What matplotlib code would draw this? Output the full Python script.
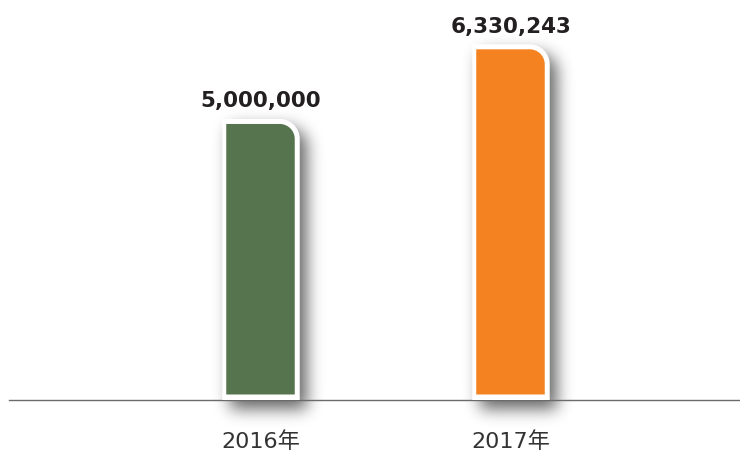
import numpy as np
import matplotlib
matplotlib.use('Agg')
import matplotlib.pyplot as plt
from matplotlib.path import Path
from matplotlib.patches import PathPatch
from matplotlib.transforms import IdentityTransform

plt.rcParams['font.family'] = ['DejaVu Sans', 'Noto Sans CJK SC']

categories = ['2016年', '2017年']
values = [5000000, 6330243]
value_labels = ['5,000,000', '6,330,243']
colors = ['#56754F', '#F58220']

W, H = 740, 454
fig = plt.figure(figsize=(W / 100, H / 100), dpi=100)
fig.patch.set_facecolor('white')
base_px = 399.5
ax = fig.add_axes([9 / W, (H - base_px) / H, 1 - 9 / W, base_px / H])
ax.set_zorder(1)
ax.patch.set_visible(False)

x = np.arange(len(categories))
bars = ax.bar(x, values, width=0.31, color='none', edgecolor='none')
ax.set_xlim(-1.008, 1.916)
ax.set_ylim(0, 7.12e6)
for s in ['top', 'right', 'left']:
    ax.spines[s].set_visible(False)
ax.spines['bottom'].set_color('#6b6b6b')
ax.spines['bottom'].set_linewidth(1.0)
ax.spines['bottom'].set_zorder(2)
ax.set_yticks([])
ax.set_xticks(x, categories)
ax.tick_params(axis='x', length=0, pad=23, labelsize=16, labelcolor='#333333')


def rounded_path(x0, y0, x1, y1, r):
    k = 0.5523 * r
    verts = [(x0, y0), (x1, y0), (x1, y1 - r),
             (x1, y1 - r + k), (x1 - r + k, y1), (x1 - r, y1),
             (x0, y1), (x0, y0)]
    codes = [Path.MOVETO, Path.LINETO, Path.LINETO,
             Path.CURVE4, Path.CURVE4, Path.CURVE4,
             Path.LINETO, Path.CLOSEPOLY]
    return Path(verts, codes)


def gauss_blur(img, sigma):
    rad = int(3 * sigma)
    t = np.arange(-rad, rad + 1)
    kern = np.exp(-t ** 2 / (2 * sigma ** 2))
    kern /= kern.sum()
    out = np.apply_along_axis(lambda m: np.convolve(m, kern, mode='same'), 0, img)
    out = np.apply_along_axis(lambda m: np.convolve(m, kern, mode='same'), 1, out)
    return out


shadow = np.zeros((H, W))
yy, xx = np.mgrid[0:H, 0:W]
dx, dy = 7, 8   # shadow offset (px, right / down)
R_out = 20
for rect, color in zip(bars, colors):
    (x0, y0) = ax.transData.transform((rect.get_x(), 0))
    (x1, y1) = ax.transData.transform((rect.get_x() + rect.get_width(), rect.get_height()))
    y0 -= 1.0
    outer = PathPatch(rounded_path(x0, y0, x1, y1, R_out), transform=IdentityTransform(),
                      facecolor='white', edgecolor='none', zorder=3)
    ax.add_artist(outer)
    inner = PathPatch(rounded_path(x0 + 4, y0 + 6, x1 - 5, y1 - 5, R_out - 5),
                      transform=IdentityTransform(), facecolor=color,
                      edgecolor='none', zorder=4)
    ax.add_artist(inner)
    top_r = H - y1 + dy
    bot_r = H - y0 + dy
    lx, rx = x0 + dx, x1 + dx
    m = (xx >= lx) & (xx <= rx) & (yy >= top_r) & (yy <= bot_r)
    cx, cy = rx - R_out, top_r + R_out
    corner = (xx > cx) & (yy < cy) & ((xx - cx) ** 2 + (yy - cy) ** 2 > R_out ** 2)
    m &= ~corner
    shadow = np.maximum(shadow, m.astype(float))

shadow = gauss_blur(shadow, 8.0)
rgba = np.zeros((H, W, 4))
rgba[..., 3] = np.clip(shadow * 0.6, 0, 1)
fig.figimage(rgba, xo=0, yo=0, origin='upper', zorder=0)

for xi, v, lab in zip(x, values, value_labels):
    ax.annotate(lab, xy=(xi, v), xytext=(0, 11.5), textcoords='offset pixels',
                ha='center', va='baseline', fontsize=15.5, fontweight='bold',
                color='#231F20', zorder=5)

fig.savefig('out.png', dpi=100)
